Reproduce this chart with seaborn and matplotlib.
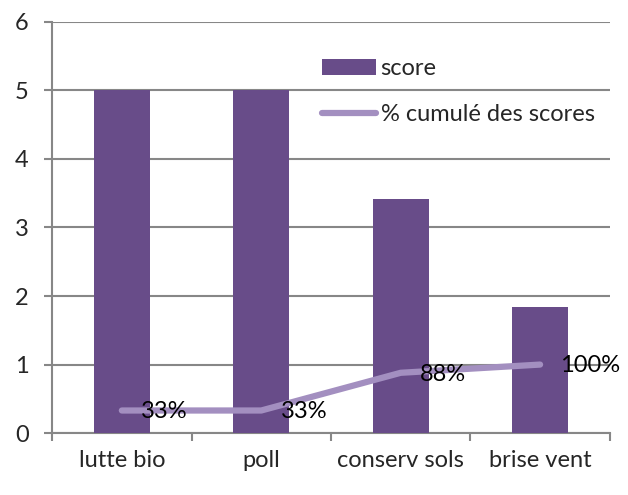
import numpy as np
import pandas as pd
import matplotlib
matplotlib.use("Agg")
import matplotlib.pyplot as plt
import seaborn as sns

# Data
categories = ["lutte bio", "poll", "conserv sols", "brise vent"]
scores = [5.0, 5.0, 3.42, 1.84]
cumul = [0.33, 0.33, 0.88, 1.0]
cumul_labels = ["33%", "33%", "88%", "100%"]

bar_color = "#684C89"
line_color = "#A38FC0"
grid_color = "#878787"

sns.set_theme(style="white")
plt.rcParams["font.family"] = ["Lato", "DejaVu Sans"]

df = pd.DataFrame({"cat": categories, "score": scores})

fig = plt.figure(figsize=(6.28, 4.95), dpi=100)
ax = fig.add_axes([0.083, 0.125, 0.888, 0.831])

sns.barplot(data=df, x="cat", y="score", color=bar_color, saturation=1,
            width=0.4, ax=ax, label="score", zorder=3, linewidth=0)
pos = np.arange(len(categories))
sns.lineplot(x=pos, y=cumul, color=line_color, linewidth=4.5, ax=ax,
             label="% cumulé des scores", zorder=4)
ax.lines[-1].set_solid_capstyle("round")

for x, y, t in zip(pos, cumul, cumul_labels):
    ax.annotate(t, (x, y), xytext=(14, -1), textcoords="offset points",
                ha="left", va="center", fontsize=17, color="black", zorder=5)

ax.set_ylim(0, 6)
ax.set_xlim(-0.5, 3.5)
ax.set_yticks(range(0, 7))
ax.set_xticks(pos)
ax.set_xticklabels(categories)
ax.set_xticks(np.arange(-0.5, 4, 1), minor=True)
ax.tick_params(axis="x", which="major", length=0, labelsize=17, pad=12)
ax.tick_params(axis="x", which="minor", length=6, width=1.5, color=grid_color,
               direction="out", bottom=True)
ax.tick_params(axis="y", length=6, width=1.5, color=grid_color, labelsize=17,
               pad=11, left=True)
ax.set_xlabel("")
ax.set_ylabel("")

ax.yaxis.grid(True, color=grid_color, linewidth=1.5, zorder=0)
ax.set_axisbelow(True)
for s in ["top", "right"]:
    ax.spines[s].set_visible(False)
for s in ["left", "bottom"]:
    ax.spines[s].set_color(grid_color)
    ax.spines[s].set_linewidth(1.5)

handles, labels = ax.get_legend_handles_labels()
order = [labels.index("score"), labels.index("% cumulé des scores")]
leg = ax.legend([handles[i] for i in order], [labels[i] for i in order],
                loc="upper left", bbox_to_anchor=(0.445, 0.963), frameon=False,
                fontsize=17, handlelength=2.3, handletextpad=0.2,
                labelspacing=1.05)

fig.savefig("out.png", dpi=100)
